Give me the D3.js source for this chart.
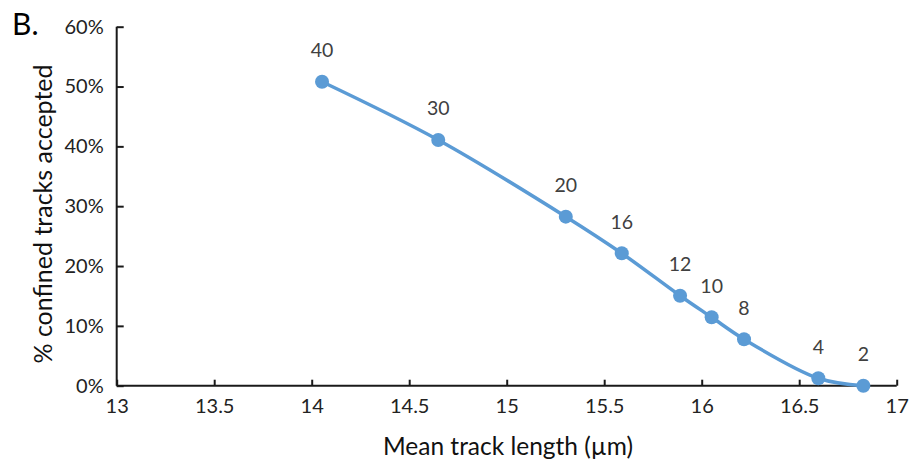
<!DOCTYPE html>
<html><head><meta charset="utf-8">
<script src="https://cdn.jsdelivr.net/npm/d3@7"></script>
<style>body{margin:0;background:#fff;} text{font-family:Lato, "Open Sans", sans-serif;}</style>
</head><body>
<svg id="c" width="913" height="461"></svg>
<script>
const trackLength = [14.053, 14.649, 15.303, 15.59, 15.889, 16.051, 16.217, 16.598, 16.829];
const pctAccepted = [50.8, 41.07, 28.25, 22.13, 15.04, 11.43, 7.76, 1.24, 0];
const pointLabels = ["40", "30", "20", "16", "12", "10", "8", "4", "2"];
const xTicks = [13, 13.5, 14, 14.5, 15, 15.5, 16, 16.5, 17];
const yTicks = [0, 10, 20, 30, 40, 50, 60];

const svg = d3.select("#c");
const x = d3.scaleLinear().domain([13, 17]).range([116.7, 896.7]);
const y = d3.scaleLinear().domain([0, 60]).range([385.7, 26.7]);

const xAxis = svg.append("g").attr("transform", `translate(0,${y(0)})`)
  .call(d3.axisBottom(x).tickValues(xTicks).tickSizeInner(-6).tickSizeOuter(0).tickPadding(13).tickFormat(d3.format("")));
const yAxis = svg.append("g").attr("transform", `translate(${x(13)},0)`)
  .call(d3.axisLeft(y).tickValues(yTicks).tickSizeInner(-7).tickSizeOuter(0).tickPadding(13).tickFormat(d => d + "%"));
[xAxis, yAxis].forEach(g => {
  g.selectAll("path,line").attr("stroke", "#1a1a1a").attr("stroke-width", 2);
  g.selectAll("text").attr("fill", "#222").style("font-size", "20px").style("font-family", "Lato, sans-serif");
});
yAxis.select(".domain").attr("d", `M0,${y(60)}V${y(0)}`);
xAxis.select(".domain").attr("d", `M${x(13)},0H${x(17)}`);

const data = trackLength.map((v, i) => ({x: v, y: pctAccepted[i], l: pointLabels[i]}));
svg.append("path").datum(data)
  .attr("d", d3.line().x(d => x(d.x)).y(d => y(d.y)).curve(d3.curveCatmullRom.alpha(0.5)))
  .attr("fill", "none").attr("stroke", "#5B9BD5").attr("stroke-width", 3.5);
svg.selectAll("circle.pt").data(data).enter().append("circle")
  .attr("cx", d => x(d.x)).attr("cy", d => y(d.y)).attr("r", 7).attr("fill", "#5B9BD5");
svg.selectAll("text.lbl").data(data).enter().append("text")
  .attr("x", d => x(d.x)).attr("y", d => y(d.y) - 24.5).attr("text-anchor", "middle")
  .attr("fill", "#404040").style("font-size", "19.5px").text(d => d.l);

svg.append("text").attr("x", 12).attr("y", 35).style("font-size", "30px").attr("fill", "#000").text("B.");
svg.append("text").attr("transform", `translate(52,214) rotate(-90)`).attr("text-anchor", "middle")
  .style("font-size", "25px").attr("fill", "#111").text("% confined tracks accepted");
svg.append("text").attr("x", 508).attr("y", 455).attr("text-anchor", "middle")
  .style("font-size", "24.5px").attr("fill", "#111").text("Mean track length (µm)");
</script>
</body></html>
